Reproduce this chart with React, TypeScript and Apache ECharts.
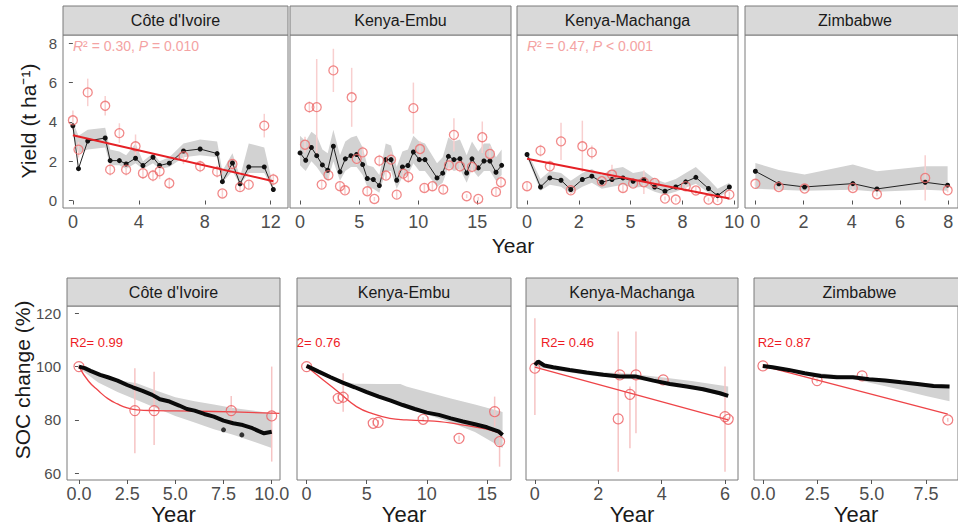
import React, { useEffect, useRef } from 'react';
import * as echarts from 'echarts';

const FONT = '"Liberation Sans", Arial, Helvetica, sans-serif';

// ---------------- Site names ----------------
const sites = ["Côte d'Ivoire", 'Kenya-Embu', 'Kenya-Machanga', 'Zimbabwe'];

// ---------------- Yield panels (t/ha) ----------------
// Côte d'Ivoire
const ciYear = [0, 0.34, 0.9, 1.96, 2.26, 2.82, 3.23, 3.8, 4.25, 4.86, 5.26, 5.85, 6.71, 7.72, 8.75, 9.07, 9.68, 10.14, 10.67, 11.61, 12.16];
const ciSim = [3.8, 1.62, 3.03, 3.18, 2.03, 2.03, 1.86, 2.15, 1.78, 2.2, 1.78, 1.9, 2.52, 2.62, 2.39, 0.96, 1.91, 0.85, 1.71, 1.71, 0.56];
const ciSimLo = [3.3, 2.4, 2.6, 2.7, 1.8, 1.8, 1.6, 1.9, 1.6, 1.9, 1.6, 1.7, 2.2, 2.3, 2.2, 0.9, 1.5, 0.8, 1.4, 1.4, 0.5];
const ciSimHi = [4.0, 3.3, 3.6, 3.7, 2.6, 2.5, 2.3, 2.9, 2.0, 2.4, 2.0, 2.2, 2.9, 3.1, 3.0, 1.5, 2.4, 1.2, 2.9, 2.7, 0.7];
const ciObs = [4.08, 2.59, 5.5, 4.82, 1.57, 3.43, 1.57, 2.76, 1.39, 1.27, 1.49, 0.88, 2.25, 1.74, 1.47, 0.36, 1.86, 0.68, 0.81, 3.81, 1.07];
const ciObsErr = [0.5, 0.4, 0.7, 0.5, 0.3, 0.5, 0.3, 0.6, 0.3, 0.3, 0.4, 0.3, 0.4, 0.3, 0.3, 0.2, 0.3, 0.2, 0.2, 0.6, 0.3];
const ciFitYear = [0, 12.16];
const ciFit = [3.32, 0.98];

// Kenya-Embu
const keYear = [0, 0.48, 0.96, 1.41, 1.89, 2.34, 2.82, 3.38, 3.83, 4.31, 4.79, 5.3, 5.69, 6.2, 6.71, 7.25, 7.7, 8.18, 8.66, 9.13, 9.59, 10.09, 10.57, 11.59, 12.07, 12.55, 13.02, 13.53, 14.1, 14.55, 15.08, 15.56, 16.07, 16.58, 17.06];
const keSim = [2.42, 2.05, 2.70, 2.28, 1.81, 1.54, 2.76, 1.46, 2.12, 2.28, 2.34, 1.83, 1.12, 1.07, 0.76, 2.08, 2.08, 1.03, 1.71, 1.78, 2.47, 2.08, 2.08, 1.15, 1.39, 2.25, 2.08, 2.13, 1.40, 2.12, 1.66, 2.01, 2.01, 1.44, 1.79];
const keSimHi = [3.3, 3.0, 3.5, 3.3, 2.6, 2.4, 3.6, 2.3, 3.0, 3.2, 3.3, 2.7, 1.8, 1.7, 1.3, 2.9, 2.8, 1.7, 2.5, 2.6, 3.3, 3.0, 2.9, 1.9, 2.2, 3.2, 3.0, 3.1, 2.3, 3.0, 2.5, 2.9, 2.9, 2.2, 2.6];
const keSimLo = [1.8, 1.5, 2.0, 1.7, 1.3, 1.0, 2.0, 1.0, 1.5, 1.7, 1.7, 1.3, 0.7, 0.6, 0.4, 1.5, 1.5, 0.6, 1.2, 1.3, 1.9, 1.5, 1.5, 0.7, 0.9, 1.7, 1.5, 1.6, 0.9, 1.6, 1.2, 1.5, 1.5, 1.0, 1.3];
const keObsYear = [0.42, 0.79, 1.41, 1.83, 2.4, 2.82, 3.38, 3.8, 4.37, 4.79, 5.3, 5.69, 6.29, 6.71, 7.27, 7.7, 8.18, 8.74, 9.16, 9.59, 10.15, 10.52, 11.2, 12.12, 12.6, 13.02, 13.53, 14.1, 14.55, 15.08, 15.42, 16.07, 16.58, 17.0];
const keObs = [2.84, 4.75, 4.75, 0.81, 1.29, 6.62, 0.73, 0.52, 5.25, 2.12, 2.45, 0.47, 0.08, 2.03, 1.27, 2.08, 0.30, 1.37, 1.20, 4.70, 2.62, 0.64, 0.73, 0.56, 1.79, 3.34, 1.74, 0.22, 1.71, 0.08, 3.22, 2.37, 0.44, 0.93];
const keObsErr = [0.4, 0.3, 2.45, 0.2, 0.3, 1.1, 0.2, 0.2, 1.5, 0.3, 0.3, 0.2, 0.1, 0.3, 0.2, 0.4, 0.2, 0.3, 0.3, 1.3, 0.4, 0.2, 0.2, 0.2, 0.3, 0.85, 0.3, 0.1, 0.3, 0.1, 0.8, 0.4, 0.2, 0.3];

// Kenya-Machanga
const kmYear = [0, 0.65, 1.1, 1.64, 2.11, 2.67, 3.13, 3.61, 4.1, 4.63, 5.12, 5.64, 6.16, 6.66, 7.18, 7.66, 8.15, 8.76, 9.2, 9.77];
const kmSim = [2.34, 0.69, 1.15, 1.03, 0.56, 1.07, 1.24, 0.93, 1.07, 1.15, 0.98, 1.07, 0.69, 0.47, 0.69, 0.95, 1.18, 0.61, 0.25, 0.69];
const kmSimHi = [2.5, 1.1, 1.5, 1.4, 1.0, 1.4, 1.6, 1.3, 1.6, 1.7, 1.4, 1.5, 1.1, 0.9, 1.1, 1.4, 1.7, 1.1, 0.6, 0.9];
const kmSimLo = [2.2, 0.5, 0.8, 0.7, 0.35, 0.7, 0.9, 0.6, 0.7, 0.8, 0.65, 0.7, 0.45, 0.3, 0.45, 0.65, 0.85, 0.4, 0.15, 0.5];
const kmObs = [0.73, 2.54, 1.74, 3.01, 0.52, 2.76, 2.45, 0.98, 1.32, 0.64, 0.86, 0.93, 0.90, 0.10, 0.05, 0.73, 0.51, 0.05, 0.02, 0.30];
const kmObsErr = [0.2, 0.3, 0.3, 0.95, 0.2, 1.3, 0.35, 0.2, 0.5, 0.2, 0.2, 0.6, 0.2, 0.1, 0.1, 0.2, 0.2, 0.1, 0.1, 0.15];
const kmFitYear = [0, 9.77];
const kmFit = [2.12, 0.1];

// Zimbabwe
const zwYear = [0, 0.97, 2.04, 4.04, 5.04, 7.04, 7.97];
const zwSim = [1.49, 0.85, 0.69, 0.86, 0.59, 0.93, 0.78];
const zwSimHi = [1.91, 1.55, 1.32, 1.83, 1.49, 1.74, 1.74];
const zwSimLo = [0.6, 0.55, 0.5, 0.55, 0.45, 0.55, 0.5];
const zwObs = [0.85, 0.69, 0.61, 0.64, 0.32, 1.15, 0.52];
const zwObsErr = [0.1, 0.1, 0.1, 0.15, 0.1, 1.15, 0.1];

const yieldR2Labels = ['{i|R}² = 0.30, {i|P} = 0.010', '', '{i|R}² = 0.47, {i|P} < 0.001', ''];

// ---------------- SOC panels (%) ----------------
// Côte d'Ivoire
const ciSocYear = [0, 0.3, 0.6, 1.1, 1.5, 2.0, 2.5, 2.8, 3.3, 3.8, 4.2, 4.7, 5.2, 5.6, 6.0, 6.5, 7.0, 7.5, 8.0, 8.5, 9.0, 9.3, 9.6, 10.0];
const ciSoc = [100, 99.4, 98.4, 96.9, 96, 94.75, 93.1, 92.25, 90.9, 89.4, 87.75, 86.9, 85.4, 84.1, 83.5, 82.25, 81.25, 79.75, 78.75, 78.1, 76.9, 75.9, 75, 75.6];
const ciSocBandYear = [0, 1, 2, 3, 4, 5, 6, 7, 8, 9, 10];
const ciSocHi = [100.5, 97.5, 95, 93.8, 91, 88.5, 87, 85.8, 84.5, 83.5, 82.5];
const ciSocLo = [99.5, 94, 90.5, 87.5, 84.5, 81.5, 79, 76.5, 74.5, 72, 69.5];
const ciSocDotYear = [7.5, 8.45];
const ciSocDot = [76.3, 74.4];
const ciSocObsYear = [0, 2.9, 3.9, 7.9, 10];
const ciSocObs = [100, 83.5, 83.5, 83.5, 81.5];
const ciSocBarLo = [99.3, 67.5, 70.6, 78, 64.4];
const ciSocBarHi = [100.7, 99.4, 98.1, 89, 100];
const ciSocFitYear = [0, 0.5, 1, 1.5, 2, 2.5, 3, 4, 6, 8, 10.4];
const ciSocFit = [100, 94.5, 91, 88, 86, 84.5, 83.8, 83.5, 83.3, 83, 82.5];

// Kenya-Embu
const keSocYear = [0, 1, 2, 3, 4, 5, 6, 7, 8, 9, 10, 11, 12, 13, 14, 15, 16, 16.3];
const keSoc = [100.25, 98.1, 96, 94, 92.25, 90.4, 88.75, 87.25, 85.6, 84.1, 82.75, 81.9, 80.6, 79.4, 78.4, 77.25, 75.6, 74.4];
const keSocBandYear = [0, 2, 3, 4, 6, 7.8, 8.3, 10, 12, 14, 16.3];
const keSocHi = [100.5, 96.5, 94.5, 93.6, 93.5, 93.5, 92.5, 90.5, 88, 85.8, 83];
const keSocLo = [99.8, 95.5, 93.5, 91.8, 88.3, 85.4, 84.6, 82, 79, 75.5, 69.5];
const keSocObsYear = [0, 2.63, 3.04, 5.54, 5.95, 9.69, 12.68, 15.64, 16.05];
const keSocObs = [100, 88.1, 88.5, 78.75, 79.1, 80.25, 73.1, 83.1, 71.9];
const keSocBarLo = [99.3, 87, 83.1, 77.8, 78.2, 79.4, 72, 77.5, 62.5];
const keSocBarHi = [100.7, 89.2, 97.5, 79.7, 80, 81.1, 74.2, 88.75, 76.25];
const keSocFitYear = [0, 1.38, 2.77, 4.15, 5.54, 6.92, 8.3, 9.69, 11.07, 12.45, 13.84, 15.22, 16.3];
const keSocFit = [100, 95, 90, 85, 82.25, 80.6, 80, 79.75, 79.4, 78.5, 77.5, 76.25, 74.6];

// Kenya-Machanga
const kmSocYear = [0, 0.1, 0.3, 0.58, 1.1, 1.63, 2.16, 2.68, 3.2, 3.74, 4.26, 4.79, 5.31, 5.84, 6.1];
const kmSoc = [100.6, 101.9, 100.4, 99.75, 98.75, 97.75, 96.9, 96.25, 96.25, 94.75, 93.5, 92.5, 91.5, 90, 89];
const kmSocBandYear = [0, 1, 2, 3, 4, 5, 6.1];
const kmSocHi = [101, 99.5, 98, 97.3, 96, 94.5, 92.5];
const kmSocLo = [100, 98, 96.3, 95.5, 93.8, 91.6, 88.5];
const kmSocObsYear = [0, 2.63, 2.68, 3.0, 3.19, 4.05, 6.0, 6.1];
const kmSocObs = [99.4, 80.4, 96.9, 89.6, 96.9, 95, 81.25, 80.25];
const kmSocBarLo = [81.9, 60.6, 96, 69.4, 75, 94.3, 60.6, 79.5];
const kmSocBarHi = [118.1, 113.1, 97.8, 92.5, 113.1, 95.7, 100, 81];
const kmSocFitYear = [0, 6.1];
const kmSocFit = [99.75, 80];

// Zimbabwe
const zwSocYear = [0, 0.44, 1.18, 1.92, 2.66, 3.4, 4.14, 4.88, 5.62, 6.36, 7.1, 7.84, 8.58];
const zwSoc = [100.25, 99.75, 98.75, 97.5, 96.5, 96, 96, 95.25, 94.75, 94.1, 93.5, 92.75, 92.5];
const zwSocBandYear = [0, 2, 4, 4.6, 6, 7.5, 8.58];
const zwSocHi = [100.8, 98, 96.5, 96, 95, 93.8, 93];
const zwSocLo = [99.8, 97, 95.5, 94.5, 92, 89, 87];
const zwSocObsYear = [0, 2.49, 4.56, 8.5];
const zwSocObs = [100.25, 94.75, 96.5, 80];
const zwSocBarLo = [99.5, 94, 95.8, 79.3];
const zwSocBarHi = [101, 95.5, 97.2, 80.7];
const zwSocFitYear = [0, 8.5];
const zwSocFit = [100.25, 82.2];

const socR2Labels = ['R2= 0.99', 'R2= 0.76', 'R2= 0.46', 'R2= 0.87'];

// ---------------- Axis breaks / tick labels ----------------
const yieldTicks = [0, 2, 4, 6, 8];
const socTicks = [60, 80, 100, 120];
const yieldYearTicks = [[0, 4, 8, 12], [0, 5, 10, 15], [0, 2.5, 5, 7.5, 10], [0, 2, 4, 6, 8]];
const yieldYearLabels = [['0', '4', '8', '12'], ['0', '5', '10', '15'], ['0', '2', '5', '8', '10'], ['0', '2', '4', '6', '8']];
const socYearTicks = [[0, 2.5, 5, 7.5, 10], [0, 5, 10, 15], [0, 2, 4, 6], [0, 2.5, 5, 7.5]];
const socYearLabels = [['0.0', '2.5', '5.0', '7.5', '10.0'], ['0', '5', '10', '15'], ['0', '2', '4', '6'], ['0.0', '2.5', '5.0', '7.5']];

// ---------------- Layout (pixels) ----------------
const topLayout = [
  { left: 63, width: 225, min: -0.6, max: 13.05 },
  { left: 290, width: 221, min: -0.85, max: 17.85 },
  { left: 517, width: 221, min: -0.485, max: 10.185 },
  { left: 745, width: 220, min: -0.43, max: 8.4 },
];
const botLayout = [
  { left: 67, width: 213, min: -0.62, max: 10.43, r2x: -0.47 },
  { left: 297, width: 214, min: -0.8, max: 17.0, r2x: -1.6 },
  { left: 526, width: 212, min: -0.28, max: 6.41, r2x: 0.19 },
  { left: 754, width: 211, min: -0.41, max: 8.97, r2x: -0.24 },
];
const TOP_Y = 35, TOP_H = 173, TOP_STRIP_Y = 6;
const BOT_Y = 306, BOT_H = 174, BOT_STRIP_Y = 278;

const yieldPanels = [
  { year: ciYear, sim: ciSim, lo: ciSimLo, hi: ciSimHi, obsYear: ciYear, obs: ciObs, err: ciObsErr, fitYear: ciFitYear, fit: ciFit },
  { year: keYear, sim: keSim, lo: keSimLo, hi: keSimHi, obsYear: keObsYear, obs: keObs, err: keObsErr, fitYear: null, fit: null },
  { year: kmYear, sim: kmSim, lo: kmSimLo, hi: kmSimHi, obsYear: kmYear, obs: kmObs, err: kmObsErr, fitYear: kmFitYear, fit: kmFit },
  { year: zwYear, sim: zwSim, lo: zwSimLo, hi: zwSimHi, obsYear: zwYear, obs: zwObs, err: zwObsErr, fitYear: null, fit: null },
];
const socPanels = [
  { year: ciSocYear, sim: ciSoc, bandYear: ciSocBandYear, lo: ciSocLo, hi: ciSocHi, obsYear: ciSocObsYear, obs: ciSocObs, barLo: ciSocBarLo, barHi: ciSocBarHi, fitYear: ciSocFitYear, fit: ciSocFit, dotYear: ciSocDotYear, dot: ciSocDot },
  { year: keSocYear, sim: keSoc, bandYear: keSocBandYear, lo: keSocLo, hi: keSocHi, obsYear: keSocObsYear, obs: keSocObs, barLo: keSocBarLo, barHi: keSocBarHi, fitYear: keSocFitYear, fit: keSocFit, dotYear: [], dot: [] },
  { year: kmSocYear, sim: kmSoc, bandYear: kmSocBandYear, lo: kmSocLo, hi: kmSocHi, obsYear: kmSocObsYear, obs: kmSocObs, barLo: kmSocBarLo, barHi: kmSocBarHi, fitYear: kmSocFitYear, fit: kmSocFit, dotYear: [], dot: [] },
  { year: zwSocYear, sim: zwSoc, bandYear: zwSocBandYear, lo: zwSocLo, hi: zwSocHi, obsYear: zwSocObsYear, obs: zwSocObs, barLo: zwSocBarLo, barHi: zwSocBarHi, fitYear: zwSocFitYear, fit: zwSocFit, dotYear: [], dot: [] },
];

const BAND = '#D2D2D2';
const BORDER = '#7a7a7a';
const TICKCOL = '#4d4d4d';

function zip(xs: number[], ys: number[]) {
  return xs.map((x, i) => [x, ys[i]]);
}

function bandSeries(g: number, xs: number[], lo: number[], hi: number[]) {
  return {
    type: 'custom', xAxisIndex: g, yAxisIndex: g, clip: true, silent: true, z: 1,
    data: xs.map((x, i) => [x, lo[i], hi[i]]),
    encode: { x: 0, y: [1, 2] },
    renderItem: (params: any, api: any) => {
      if (params.dataIndex !== 0) return null;
      const pts: number[][] = [];
      for (let i = 0; i < xs.length; i++) pts.push(api.coord([xs[i], hi[i]]));
      for (let i = xs.length - 1; i >= 0; i--) pts.push(api.coord([xs[i], lo[i]]));
      return { type: 'polygon', shape: { points: pts }, style: { fill: BAND } };
    },
  };
}

function barSeries(g: number, xs: number[], lo: number[], hi: number[], color: string, w: number) {
  return {
    type: 'custom', xAxisIndex: g, yAxisIndex: g, clip: true, silent: true, z: 2,
    data: xs.map((x, i) => [x, lo[i], hi[i]]),
    encode: { x: 0, y: [1, 2] },
    renderItem: (params: any, api: any) => {
      const a = api.coord([api.value(0), api.value(1)]);
      const b = api.coord([api.value(0), api.value(2)]);
      return { type: 'line', shape: { x1: a[0], y1: a[1], x2: b[0], y2: b[1] }, style: { stroke: color, lineWidth: w } };
    },
  };
}

function buildOption() {
  const grid: any[] = [];
  const xAxis: any[] = [];
  const yAxis: any[] = [];
  const series: any[] = [];
  const graphic: any[] = [];

  // ---- top row ----
  topLayout.forEach((L, i) => {
    grid.push({ left: L.left, top: TOP_Y, width: L.width, height: TOP_H, show: true, borderColor: BORDER, borderWidth: 1, backgroundColor: '#fff' });
    const ticks = yieldYearTicks[i];
    const labels = yieldYearLabels[i];
    xAxis.push({
      type: 'value', gridIndex: i, min: L.min, max: L.max,
      axisLine: { show: false },
      splitLine: { show: false },
      axisTick: { show: true, length: 4, lineStyle: { color: '#555' }, customValues: ticks },
      axisLabel: { customValues: ticks, formatter: (v: number) => labels[ticks.indexOf(v)] ?? '', fontSize: 18, color: TICKCOL, fontFamily: FONT, margin: 5 },
    });
    yAxis.push({
      type: 'value', gridIndex: i, min: -0.38, max: 8.42,
      axisLine: { show: false },
      splitLine: { show: false },
      axisTick: { show: i === 0, length: 4, lineStyle: { color: '#555' }, customValues: yieldTicks },
      axisLabel: { show: i === 0, customValues: yieldTicks, fontSize: 15, color: TICKCOL, fontFamily: FONT, margin: 6 },
    });
    const P = yieldPanels[i];
    series.push(bandSeries(i, P.year, P.lo, P.hi));
    series.push(barSeries(i, P.obsYear, P.obs.map((v, k) => v - P.err[k]), P.obs.map((v, k) => v + P.err[k]), '#F8CFCF', 1.5));
    series.push({
      type: 'line', xAxisIndex: i, yAxisIndex: i, z: 3, silent: true,
      data: zip(P.year, P.sim), symbol: 'circle', symbolSize: 5, showSymbol: true,
      itemStyle: { color: '#111' }, lineStyle: { color: '#222', width: 1 },
    });
    series.push({
      type: 'scatter', xAxisIndex: i, yAxisIndex: i, z: 4, silent: true,
      data: zip(P.obsYear, P.obs), symbol: 'circle', symbolSize: 9,
      itemStyle: { color: 'rgba(0,0,0,0)', borderColor: '#EE6B6B', borderWidth: 1.3 },
    });
    if (P.fit && P.fitYear) {
      series.push({
        type: 'line', xAxisIndex: i, yAxisIndex: i, z: 5, silent: true,
        data: zip(P.fitYear, P.fit), symbol: 'none', lineStyle: { color: '#E52025', width: 2 },
      });
    }
    // strip
    graphic.push({ type: 'rect', shape: { x: L.left, y: TOP_STRIP_Y, width: L.width, height: TOP_Y - TOP_STRIP_Y }, style: { fill: '#D9D9D9', stroke: BORDER, lineWidth: 1 }, z: 10 });
    graphic.push({ type: 'text', x: L.left + L.width / 2, y: TOP_STRIP_Y + (TOP_Y - TOP_STRIP_Y) / 2, style: { text: sites[i], fill: '#1a1a1a', font: `16px ${FONT}`, textAlign: 'center', textVerticalAlign: 'middle' }, z: 11 });
    if (yieldR2Labels[i]) {
      graphic.push({
        type: 'text', x: L.left + 10, y: 46, z: 11,
        style: {
          text: yieldR2Labels[i], fill: '#F4A3A3', font: `14px ${FONT}`, textAlign: 'left', textVerticalAlign: 'middle',
          rich: { i: { fontStyle: 'italic', fontSize: 14, fontFamily: FONT, fill: '#F4A3A3' } },
        },
      });
    }
  });

  // ---- bottom row ----
  botLayout.forEach((L, j) => {
    const g = 4 + j;
    grid.push({ left: L.left, top: BOT_Y, width: L.width, height: BOT_H, show: true, borderColor: BORDER, borderWidth: 1, backgroundColor: '#fff' });
    const ticks = socYearTicks[j];
    const labels = socYearLabels[j];
    xAxis.push({
      type: 'value', gridIndex: g, min: L.min, max: L.max,
      name: 'Year', nameLocation: 'middle', nameGap: 23,
      nameTextStyle: { fontSize: 22, color: '#1a1a1a', fontFamily: FONT },
      axisLine: { show: false },
      splitLine: { show: false },
      axisTick: { show: true, length: 4, lineStyle: { color: '#555' }, customValues: ticks },
      axisLabel: { customValues: ticks, formatter: (v: number) => labels[ticks.indexOf(v)] ?? '', fontSize: 18, color: TICKCOL, fontFamily: FONT, margin: 5 },
    });
    yAxis.push({
      type: 'value', gridIndex: g, min: 57.5, max: 122.7,
      axisLine: { show: false },
      splitLine: { show: false },
      axisTick: { show: j === 0, length: 4, lineStyle: { color: '#555' }, customValues: socTicks },
      axisLabel: { show: j === 0, customValues: socTicks, fontSize: 15, color: TICKCOL, fontFamily: FONT, margin: 6 },
    });
    const P = socPanels[j];
    series.push(bandSeries(g, P.bandYear, P.lo, P.hi));
    series.push(barSeries(g, P.obsYear, P.barLo, P.barHi, '#F6C4C4', 1.5));
    series.push({
      type: 'line', xAxisIndex: g, yAxisIndex: g, z: 3, silent: true,
      data: zip(P.fitYear, P.fit), symbol: 'none', smooth: true, lineStyle: { color: '#EE4448', width: 1.3 },
    });
    series.push({
      type: 'scatter', xAxisIndex: g, yAxisIndex: g, z: 4, silent: true,
      data: zip(P.obsYear, P.obs), symbol: 'circle', symbolSize: 10,
      itemStyle: { color: 'rgba(0,0,0,0)', borderColor: '#EC5A5E', borderWidth: 1.2 },
    });
    series.push({
      type: 'line', xAxisIndex: g, yAxisIndex: g, z: 5, silent: true,
      data: zip(P.year, P.sim), symbol: 'none', lineStyle: { color: '#0a0a0a', width: 4 },
    });
    if (P.dot.length) {
      series.push({
        type: 'scatter', xAxisIndex: g, yAxisIndex: g, z: 5, silent: true,
        data: zip(P.dotYear, P.dot), symbol: 'circle', symbolSize: 5, itemStyle: { color: '#0a0a0a' },
      });
    }
    const label = socR2Labels[j];
    series.push({
      type: 'custom', xAxisIndex: g, yAxisIndex: g, clip: true, silent: true, z: 6,
      data: [[L.r2x, 108.9]],
      renderItem: (params: any, api: any) => {
        const p = api.coord([api.value(0), api.value(1)]);
        return {
          type: 'text', x: p[0], y: p[1],
          style: { text: label, fill: '#EE1C25', font: `13px ${FONT}`, textAlign: 'left', textVerticalAlign: 'middle', align: 'left', verticalAlign: 'middle' },
        };
      },
    });
    graphic.push({ type: 'rect', shape: { x: L.left, y: BOT_STRIP_Y, width: L.width, height: BOT_Y - BOT_STRIP_Y }, style: { fill: '#D9D9D9', stroke: BORDER, lineWidth: 1 }, z: 10 });
    graphic.push({ type: 'text', x: L.left + L.width / 2, y: BOT_STRIP_Y + (BOT_Y - BOT_STRIP_Y) / 2, style: { text: sites[j], fill: '#1a1a1a', font: `16px ${FONT}`, textAlign: 'center', textVerticalAlign: 'middle' }, z: 11 });
  });

  // axis titles
  graphic.push({ type: 'text', x: 513, y: 245, z: 11, style: { text: 'Year', fill: '#1a1a1a', font: `21px ${FONT}`, textAlign: 'center', textVerticalAlign: 'middle' } });
  graphic.push({ type: 'text', x: 28, y: 121, rotation: Math.PI / 2, z: 11, style: { text: 'Yield (t ha⁻¹)', fill: '#1a1a1a', font: `21px ${FONT}`, textAlign: 'center', textVerticalAlign: 'middle' } });
  graphic.push({ type: 'text', x: 22, y: 380, rotation: Math.PI / 2, z: 11, style: { text: 'SOC change (%)', fill: '#1a1a1a', font: `21px ${FONT}`, textAlign: 'center', textVerticalAlign: 'middle' } });

  return {
    animation: false,
    backgroundColor: '#ffffff',
    grid, xAxis, yAxis, series, graphic,
  };
}

export default function App() {
  const ref = useRef<HTMLDivElement>(null);
  useEffect(() => {
    if (!ref.current) return;
    const chart = echarts.init(ref.current, null, { renderer: 'svg' });
    chart.setOption(buildOption() as any);
    return () => chart.dispose();
  }, []);
  return (
    <div
      ref={ref}
      style={{ position: 'absolute', left: 0, top: 0, width: 958, height: 531, background: '#fff' }}
    />
  );
}
